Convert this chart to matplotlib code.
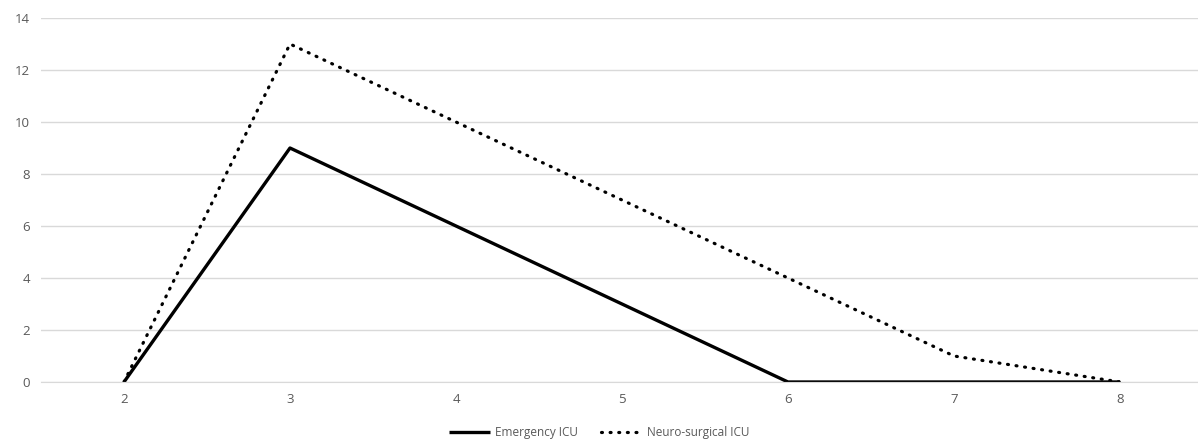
import numpy as np
import matplotlib.pyplot as plt

# Datos
categorias = ['2', '3', '4', '5', '6', '7', '8']
emergency_icu = [0, 9, 6, 3, 0, 0, 0]
neuro_icu = [0, 13, 10, 7, 4, 1, 0]

plt.rcParams['font.family'] = ['Open Sans', 'DejaVu Sans']
gris = '#595959'

fig = plt.figure(figsize=(11.98, 4.45), dpi=100)
ax = fig.add_axes([41 / 1198, 63 / 445, 1162 / 1198, 364 / 445])

x = np.arange(len(categorias))
ax.plot(x, emergency_icu, color='black', linewidth=2.4, solid_capstyle='butt', label='Emergency ICU')
ax.plot(x, neuro_icu, color='black', linewidth=2.3, linestyle=(0, (0.3, 2.4)),
        dash_capstyle='round', label='Neuro-surgical ICU')

ax.set_xlim(-0.5, len(categorias) - 0.5)
ax.set_ylim(0, 14)
ax.set_xticks(x)
ax.set_xticklabels(categorias)
ax.set_yticks(np.arange(0, 15, 2))

ax.grid(axis='y', color='#d9d9d9', linewidth=1)
ax.set_axisbelow(True)
for s in ax.spines.values():
    s.set_visible(False)
ax.spines['bottom'].set_visible(True)
ax.spines['bottom'].set_color('#d9d9d9')
ax.tick_params(length=0, labelsize=9.5, colors=gris, pad=8)

fig.legend(loc='lower center', ncol=2, frameon=False, fontsize=8.5,
           labelcolor=gris, bbox_to_anchor=(0.5, -0.01), handlelength=3.5,
           handletextpad=0.4, columnspacing=2)

fig.savefig('out.png', dpi=100)
